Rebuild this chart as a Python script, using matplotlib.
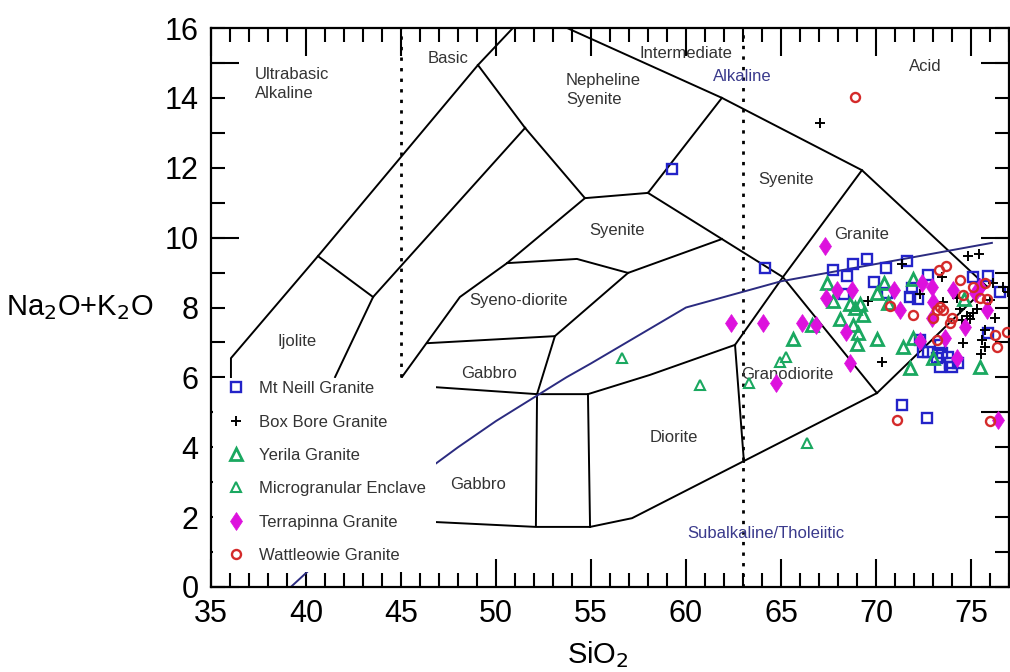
import matplotlib
matplotlib.use("Agg")
import matplotlib.pyplot as plt
from matplotlib.lines import Line2D
from matplotlib.patches import Rectangle

plt.rcParams['font.family'] = ['Liberation Sans', 'DejaVu Sans']

# field boundaries (SiO2, Na2O+K2O)
bounds = [
    ([36.05, 36.05, 40.63, 49.05, 50.89], [5.98, 6.55, 9.47, 14.94, 16.0]),
    ([40.63, 43.53], [9.47, 8.30]),
    ([41.53, 43.53, 51.53], [6.01, 8.30, 13.14]),
    ([49.05, 51.53], [14.94, 13.14]),
    ([45.05, 48.1, 50.58, 54.68], [6.01, 8.3, 9.27, 11.13]),
    ([51.53, 54.68, 58.0], [13.14, 11.13, 11.28]),
    ([58.0, 61.89], [11.28, 14.0]),
    ([53.74, 61.89, 69.26, 75.84], [16.0, 14.0, 11.93, 8.6]),
    ([58.0, 61.89, 65.1, 70.05], [11.28, 9.96, 8.87, 5.55]),
    ([50.58, 54.26, 56.95, 61.89], [9.27, 9.39, 8.99, 9.96]),
    ([53.1, 56.95], [7.18, 8.99]),
    ([46.42, 53.1, 52.16], [6.98, 7.18, 5.52]),
    ([46.79, 52.16, 54.84, 58.1, 62.58], [5.72, 5.52, 5.52, 6.07, 6.93]),
    ([52.16, 52.1], [5.52, 1.75]),
    ([54.84, 54.95], [5.52, 1.72]),
    ([46.79, 52.1, 54.95, 57.16, 70.05, 75.84], [1.86, 1.72, 1.72, 1.97, 5.55, 8.6]),
    ([62.58, 63.05], [6.93, 3.58]),
    ([69.26, 65.1, 62.58], [11.93, 8.87, 6.93]),
]
dotted = [([45, 45], [6.01, 16]), ([63, 63], [0, 16])]

# Irvine & Baragar alkaline / subalkaline divide
alk_x = [39.2, 40, 43.2, 45, 48, 50, 53.7, 55, 60, 65, 76.1]
alk_y = [0, 0.4, 2, 2.8, 4, 4.75, 6, 6.4, 8, 8.75, 9.85]

field_labels = [
    (37.3, 14.4, "Ultrabasic\nAlkaline", 'left'),
    (47.47, 15.14, "Basic", 'center'),
    (60.0, 15.28, "Intermediate", 'center'),
    (72.58, 14.91, "Acid", 'center'),
    (53.68, 14.22, "Nepheline\nSyenite", 'left'),
    (65.26, 11.65, "Syenite", 'center'),
    (56.37, 10.19, "Syenite", 'center'),
    (69.26, 10.1, "Granite", 'center'),
    (51.21, 8.21, "Syeno-diorite", 'center'),
    (39.53, 7.04, "Ijolite", 'center'),
    (49.63, 6.12, "Gabbro", 'center'),
    (65.32, 6.07, "Granodiorite", 'center'),
    (59.37, 4.29, "Diorite", 'center'),
    (49.05, 2.92, "Gabbro", 'center'),
]

mtneill_x = [59.26, 64.16, 67.74, 68.79, 69.53, 70.53, 71.63, 68.47, 69.89, 72.74, 75.11, 75.89,
             68.32, 70.58, 71.89, 71.79, 72.21, 72.32, 72.47, 72.74, 73.37, 73.47, 73.21, 73.79,
             73.89, 73.37, 74.0, 74.32, 75.89, 71.37, 72.68, 76.5]
mtneill_y = [11.96, 9.13, 9.07, 9.24, 9.39, 9.13, 9.33, 8.90, 8.73, 8.93, 8.87, 8.90,
             8.39, 8.41, 8.56, 8.30, 8.24, 7.07, 6.73, 6.73, 6.93, 6.70, 6.55, 6.58,
             6.41, 6.30, 6.30, 6.41, 7.27, 5.21, 4.84, 8.44]

boxbore_x = [74.84, 75.42, 71.37, 73.47, 69.58, 72.32, 73.53, 74.26, 74.42, 74.79, 75.11, 75.32,
             74.95, 74.53, 75.74, 75.58, 75.74, 75.53, 74.58, 70.32, 76.16, 76.68, 76.95, 75.21,
             67.05, 76.0, 76.26]
boxbore_y = [9.47, 9.54, 9.24, 8.87, 8.19, 8.39, 8.16, 8.27, 7.96, 7.76, 7.84, 7.96,
             7.67, 7.64, 7.36, 7.07, 6.87, 6.67, 6.98, 6.44, 8.70, 8.59, 8.44, 8.41,
             13.28, 8.21, 7.70]

yerila_x = [67.42, 67.74, 66.63, 65.63, 68.11, 68.63, 68.89, 69.16, 69.32, 68.79, 69.05, 69.0,
            70.05, 70.42, 70.05, 71.42, 71.95, 71.79, 71.95, 73.0, 75.47, 74.63, 70.63]
yerila_y = [8.70, 8.19, 7.50, 7.10, 7.67, 8.10, 7.99, 8.10, 7.78, 7.50, 7.27, 6.95,
            7.10, 8.70, 8.41, 6.87, 7.13, 6.27, 8.82, 6.55, 6.30, 8.24, 8.13]

enclave_x = [56.63, 60.74, 63.32, 66.37, 64.95, 65.26]
enclave_y = [6.55, 5.78, 5.84, 4.12, 6.44, 6.58]

terra_x = [62.37, 64.05, 66.1, 66.84, 64.74, 67.32, 67.95, 68.74, 67.37, 68.42, 68.63, 70.95,
           72.42, 72.95, 71.26, 74.05, 75.21, 75.47, 72.95, 73.0, 73.63, 74.26, 74.68, 75.84,
           72.32, 76.42]
terra_y = [7.56, 7.56, 7.56, 7.50, 5.84, 9.76, 8.50, 8.50, 8.27, 7.30, 6.41, 8.50,
           8.70, 8.59, 7.93, 8.50, 8.41, 8.59, 7.70, 8.16, 7.13, 6.55, 7.44, 7.93,
           7.04, 4.78]

wattle_x = [68.89, 73.32, 73.68, 74.42, 75.11, 75.74, 73.37, 73.21, 73.53, 70.74, 71.95, 73.0,
            74.0, 73.89, 73.21, 75.84, 76.26, 76.37, 76.89, 71.11, 76.0, 74.58, 75.47]
wattle_y = [14.02, 9.07, 9.19, 8.79, 8.59, 8.70, 8.01, 7.93, 7.93, 8.04, 7.78, 7.70,
            7.70, 7.56, 7.07, 8.24, 7.21, 6.87, 7.30, 4.78, 4.75, 8.36, 8.27]

fig = plt.figure(figsize=(10.1, 6.72), dpi=100)
ax = fig.add_axes([211/1010, 85/672, 798/1010, 559/672])

for bx, by in bounds:
    ax.plot(bx, by, color='black', lw=1.4, zorder=2)
for dx, dy in dotted:
    ax.plot(dx, dy, color='black', lw=2, ls=(0, (1.2, 2.6)), zorder=2)
ax.plot(alk_x, alk_y, color='#2b2b80', lw=1.4, zorder=2)

for tx, ty, s, ha in field_labels:
    ax.text(tx, ty, s, ha=ha, va='center', fontsize=12, color='#333333', linespacing=1.3, zorder=4)
ax.text(62.95, 14.6, "Alkaline", ha='center', va='center', fontsize=12, color='#3a3a8c', zorder=4)
ax.text(64.2, 1.52, "Subalkaline/Tholeiitic", ha='center', va='center', fontsize=12, color='#3a3a8c', zorder=4)

series = [
    (mtneill_x, mtneill_y, dict(marker='s', ms=6.5, mfc='none', mec='#2323c8', mew=1.7), "Mt Neill Granite"),
    (boxbore_x, boxbore_y, dict(marker='+', ms=7, mec='black', mew=1.4), "Box Bore Granite"),
    (yerila_x, yerila_y, dict(marker='^', ms=8.5, mfc='none', mec='#1aa860', mew=2.0), "Yerila Granite"),
    (enclave_x, enclave_y, dict(marker='^', ms=7.5, mfc='none', mec='#1aa860', mew=1.5), "Microgranular Enclave"),
    (terra_x, terra_y, dict(marker='d', ms=9.5, mfc='#dd11dd', mec='#dd11dd', mew=0.5), "Terrapinna Granite"),
    (wattle_x, wattle_y, dict(marker='o', ms=6.5, mfc='none', mec='#d42a2a', mew=1.7), "Wattleowie Granite"),
]
handles = []
for sx, sy, st, lab in series:
    ax.plot(sx, sy, ls='none', zorder=5, clip_on=False, **st)
    handles.append(Line2D([], [], ls='none', **st))

ax.add_patch(Rectangle((0.0025, 0.027), 0.279, 0.347, transform=ax.transAxes,
                       facecolor='white', edgecolor='none', zorder=3))
leg = ax.legend(handles, [s[3] for s in series], loc='upper left', bbox_to_anchor=(0.0215, 0.368),
                frameon=False, fontsize=12, labelspacing=1.1, handletextpad=0.85,
                handlelength=1.0, borderpad=0, borderaxespad=0)
leg.set_zorder(6)
for t in leg.get_texts():
    t.set_color('#333333')

ax.set_xlim(35, 77)
ax.set_ylim(0, 16)
ax.set_xticks(range(35, 76, 5))
ax.set_xticks(range(35, 78), minor=True)
ax.set_yticks([0, 5, 10, 15])
ax.set_yticks(range(0, 17), minor=True)
ax.yaxis.remove_overlapping_locs = False
ax.set_yticklabels([])
ax.set_yticklabels([str(v) if v % 2 == 0 else '' for v in range(0, 17)], minor=True)
ax.tick_params(which='both', direction='in', top=True, right=True, width=1.5, labelsize=22, pad=9)
ax.tick_params(which='major', length=20)
ax.tick_params(which='minor', length=10)
for sp in ax.spines.values():
    sp.set_linewidth(1.6)

ax.set_xlabel("SiO$_2$", fontsize=21)
ax.xaxis.set_label_coords(0.485, -0.094)
ax.set_ylabel("Na$_2$O+K$_2$O", fontsize=21, rotation=0, ha='left', va='center')
ax.yaxis.set_label_coords(-0.257, 0.5)

fig.savefig("out.png", dpi=100)
